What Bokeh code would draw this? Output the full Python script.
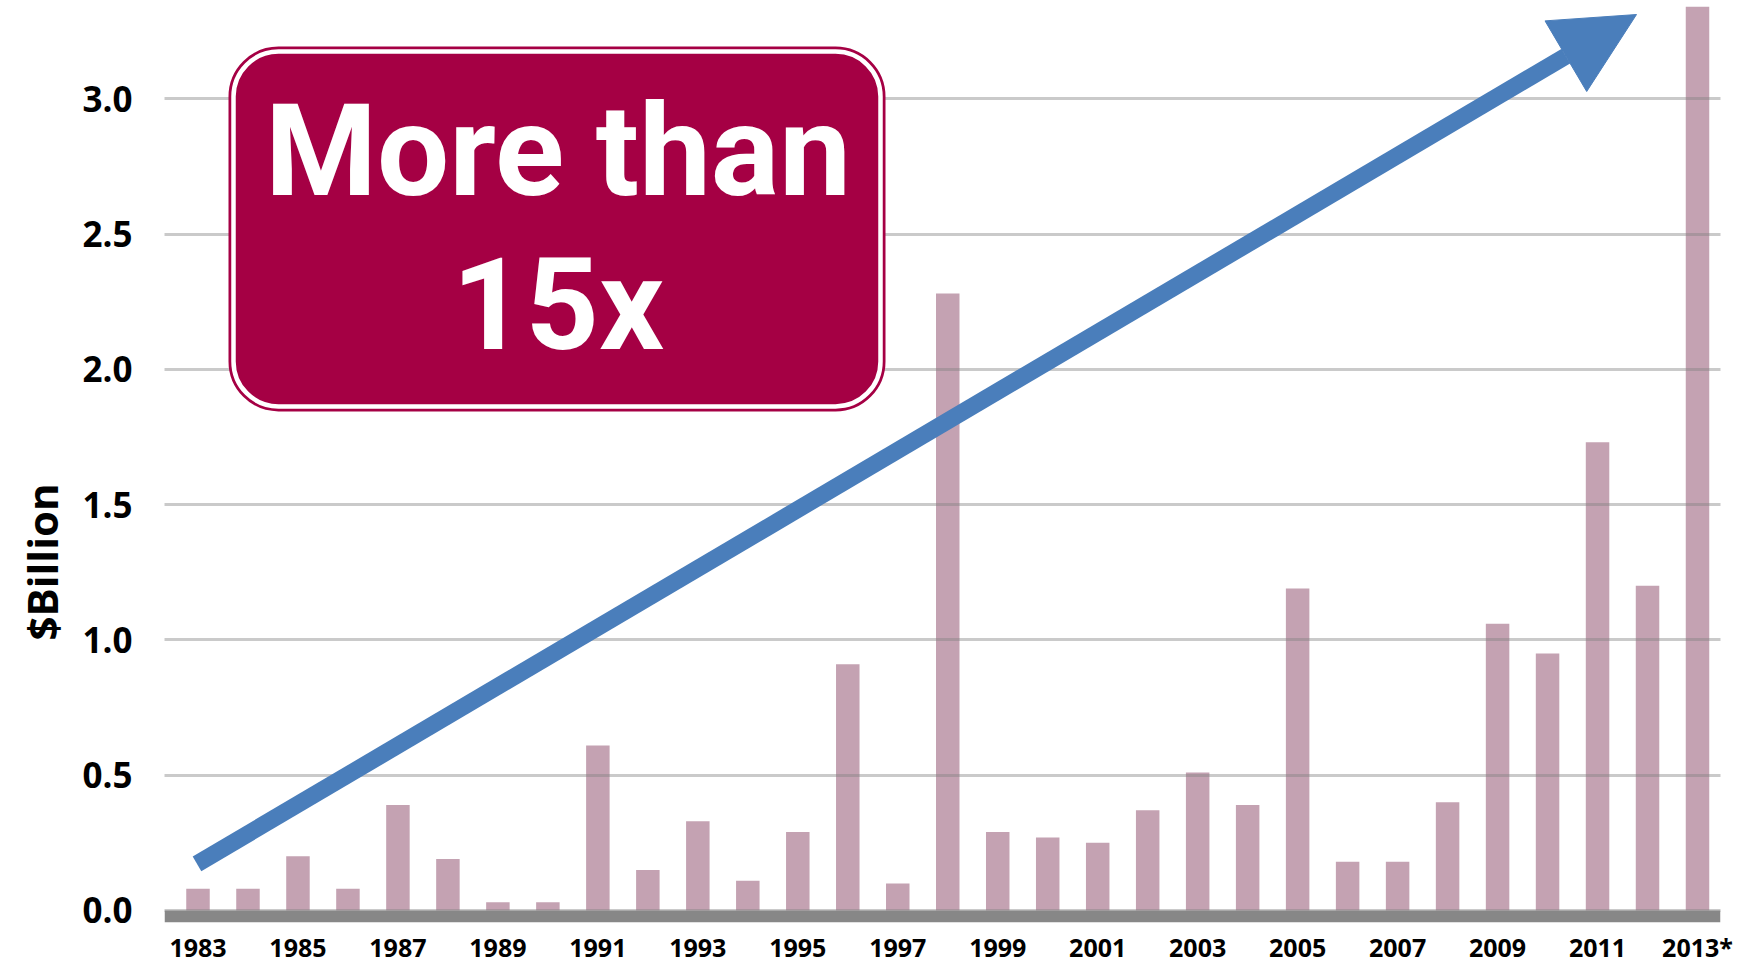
from bokeh.plotting import figure
from bokeh.models import (Range1d, BoxAnnotation, Label, Arrow, Title,
                          NormalHead, FixedTicker, PrintfTickFormatter)
from bokeh.embed import file_html
from bokeh.resources import INLINE

# ---------------- data ----------------
years = [1983, 1984, 1985, 1986, 1987, 1988, 1989, 1990,
         1991, 1992, 1993, 1994, 1995, 1996, 1997, 1998,
         1999, 2000, 2001, 2002, 2003, 2004, 2005, 2006,
         2007, 2008, 2009, 2010, 2011, 2012, 2013]
amounts = [0.08, 0.08, 0.20, 0.08, 0.39, 0.19, 0.03, 0.03,
           0.61, 0.15, 0.33, 0.11, 0.29, 0.91, 0.10, 2.28,
           0.29, 0.27, 0.25, 0.37, 0.51, 0.39, 1.19, 0.18,
           0.18, 0.40, 1.06, 0.95, 1.73, 1.20, 3.34]
x_tick_years = [1983, 1985, 1987, 1989, 1991, 1993, 1995, 1997,
                1999, 2001, 2003, 2005, 2007, 2009, 2011, 2013]
x_tick_labels = ["1983", "1985", "1987", "1989", "1991", "1993", "1995",
                 "1997", "1999", "2001", "2003", "2005", "2007", "2009",
                 "2011", "2013*"]
y_ticks = [0.0, 0.5, 1.0, 1.5, 2.0, 2.5, 3.0]
callout_lines = ["More than", "15x"]
y_title = "$Billion"

# ---------------- styling / layout ----------------
FIG_W, FIG_H = 1738, 966
FRAME_LEFT = 164
FRAME_RIGHT = 1720
FRAME_H = 920
X_PAD_LEFT, X_PAD_RIGHT = 0.17, -0.04
X0 = years[0] - 0.5 - X_PAD_LEFT
X1 = years[-1] + 0.5 + X_PAD_RIGHT
Y_TOP, Y_BOT = 3.363, -0.0444

BAR = "#C4A2B2"
CRIMSON = "#A50044"
BLUE = "#4A7EBB"
BASE_GRAY = "#878787"

px_per_x = (FRAME_RIGHT - FRAME_LEFT) / (X1 - X0)
px_per_y = FRAME_H / (Y_TOP - Y_BOT)


def sx(px):
    return X0 + (px - FRAME_LEFT) / px_per_x


def sy(py):
    return Y_TOP - py / px_per_y


p = figure(width=FIG_W, height=FIG_H,
           x_range=Range1d(X0, X1), y_range=Range1d(Y_BOT, Y_TOP),
           output_backend="svg", toolbar_location=None,
           min_border_left=FRAME_LEFT, min_border_right=FIG_W - FRAME_RIGHT,
           min_border_top=0, min_border_bottom=0)
p.outline_line_color = None
p.background_fill_color = "white"
p.border_fill_color = "white"

p.vbar(x=years, top=amounts, width=0.47, fill_color=BAR, line_color=None)

# grid
p.xgrid.grid_line_color = None
p.ygrid.ticker = FixedTicker(ticks=y_ticks)
p.ygrid.grid_line_color = "#808080"
p.ygrid.grid_line_alpha = 0.42
p.ygrid.grid_line_width = 3
p.ygrid.level = "guide"

# y axis
p.yaxis.ticker = FixedTicker(ticks=y_ticks)
p.yaxis.formatter = PrintfTickFormatter(format="%.1f")
p.yaxis.axis_line_color = None
p.yaxis.major_tick_line_color = None
p.yaxis.minor_tick_line_color = None
p.yaxis.major_tick_out = 0
p.yaxis.major_tick_in = 0
p.yaxis.minor_tick_out = 0
p.yaxis.major_label_standoff = 32
p.yaxis.major_label_text_font = "Open Sans"
p.yaxis.major_label_text_font_style = "bold"
p.yaxis.major_label_text_font_size = "35px"
p.yaxis.major_label_text_color = "black"

# x axis
p.xaxis.ticker = FixedTicker(ticks=x_tick_years)
p.xaxis.major_label_overrides = dict(zip(x_tick_years, x_tick_labels))
p.xaxis.axis_line_color = None
p.xaxis.major_tick_line_color = None
p.xaxis.minor_tick_line_color = None
p.xaxis.major_tick_out = 0
p.xaxis.major_tick_in = 0
p.xaxis.minor_tick_out = 0
p.xaxis.major_label_standoff = 7
p.xaxis.major_label_text_font = "Open Sans"
p.xaxis.major_label_text_font_style = "bold"
p.xaxis.major_label_text_font_size = "25px"
p.xaxis.major_label_text_color = "black"

# y title
p.add_layout(Title(text=y_title, align="left", offset=282, standoff=20,
                   text_font="Open Sans", text_font_style="bold",
                   text_font_size="42px", text_color="black"), "left")

# thick gray baseline
p.add_layout(BoxAnnotation(bottom=Y_BOT, top=0, fill_color=BASE_GRAY,
                           fill_alpha=1, line_color=None))

# arrow
p.add_layout(Arrow(end=NormalHead(size=82, fill_color=BLUE, line_color=BLUE),
                   x_start=sx(196.5), y_start=sy(861.5),
                   x_end=sx(1636), y_end=sy(14),
                   line_color=BLUE, line_width=17, line_cap="butt"))

# callout box
box_kw = dict(left=sx(233), right=sx(880), top=sy(51), bottom=sy(405),
              border_radius=45)
p.add_layout(BoxAnnotation(**box_kw, fill_color=CRIMSON, fill_alpha=1,
                           line_color=CRIMSON, line_alpha=1, line_width=10))
p.add_layout(BoxAnnotation(**box_kw, fill_alpha=0, line_color="white",
                           line_alpha=1, line_width=4.5))

for txt, mid in zip(callout_lines, [150, 303.5]):
    p.add_layout(Label(x=sx(557.5), y=sy(mid), text=txt,
                       text_align="center", text_baseline="middle",
                       text_font="Roboto",
                       text_font_style="bold", text_font_size="128px",
                       text_color="white"))

open("out.html", "w").write(file_html(p, INLINE, title="Growth"))
